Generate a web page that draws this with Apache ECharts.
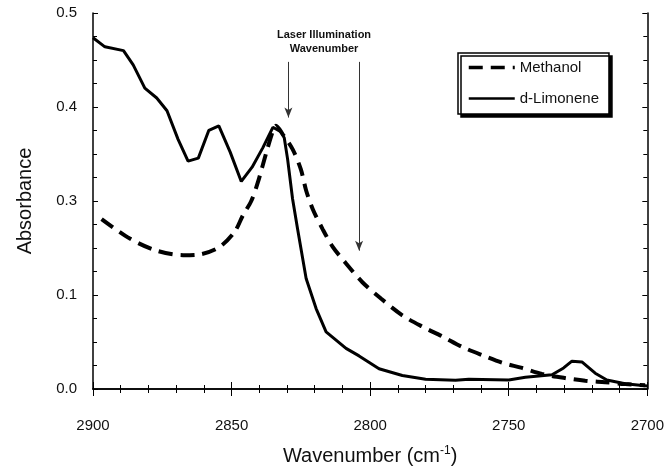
<!DOCTYPE html>
<html>
<head>
  <meta charset="UTF-8">
  <title>Absorbance spectra</title>
  <script src="https://cdn.jsdelivr.net/npm/echarts@6/dist/echarts.min.js"></script>
</head>
<body style="margin:0; background:#fff;">
  <div id="chart" style="width:667px; height:471px;"></div>
  <script>
    // values
    var limoneneWn = [2900, 2895.7, 2889, 2885.5, 2881.3, 2877, 2873.3, 2869.3, 2865.7, 2862, 2858.2, 2854.6,
      2850.5, 2846.5, 2842.6, 2838.7, 2835.1, 2832.1, 2831, 2829.8, 2828, 2826.2, 2823.1, 2819.5, 2815.9,
      2808.7, 2804, 2796.8, 2788.4, 2780, 2769.2, 2764.4, 2750, 2744, 2734.4, 2730.2, 2727.2, 2723.6,
      2718.8, 2714.6, 2708, 2700];
    var limoneneAbs = [0.467, 0.455, 0.450, 0.431, 0.400, 0.387, 0.370, 0.332, 0.303, 0.307, 0.344, 0.350,
      0.315, 0.276, 0.295, 0.321, 0.348, 0.342, 0.334, 0.306, 0.253, 0.213, 0.147, 0.107, 0.076,
      0.054, 0.044, 0.027, 0.018, 0.013, 0.0115, 0.013, 0.012, 0.0155, 0.019, 0.028, 0.037, 0.036,
      0.021, 0.012, 0.007, 0.004];
    var methanolWn = [2896.9, 2886.7, 2877.1, 2867.5, 2861.5, 2854.3, 2848.9, 2845.9, 2842.9, 2840.5, 2837.5,
      2835.1, 2834, 2831.6, 2828, 2825, 2823.1, 2820.7, 2817.2, 2813.5, 2808.7, 2802.8, 2796,
      2788.4, 2781.2, 2774, 2766.8, 2759.6, 2752.4, 2745.2, 2738, 2729.6, 2722.4, 2715.2, 2708, 2700.8];
    var methanolAbs = [0.226, 0.200, 0.184, 0.178, 0.179, 0.189, 0.209, 0.231, 0.250, 0.275, 0.314,
      0.343, 0.350, 0.339, 0.319, 0.292, 0.264, 0.239, 0.213, 0.189, 0.167, 0.142, 0.120,
      0.098, 0.083, 0.070, 0.056, 0.045, 0.035, 0.028, 0.020, 0.0145, 0.011, 0.009, 0.0066, 0.005];

    // the printed y labels skip 0.2
    var yTickLabels = ['0.0', '0.1', '0.3', '0.4', '0.5'];

    // laser illumination arrows
    var arrowWn = [2829.5, 2804];
    var arrowTop = 0.435;
    var arrowTip = [0.361, 0.184];

    function pairs(xs, ys) {
      return xs.map(function (x, i) { return [x, ys[i]]; });
    }

    var font = 'Liberation Sans, Arial, sans-serif';
    var xRange = {min: 2700, max: 2900, interval: 50};
    var yRange = {min: 0, max: 0.5, interval: 0.125};

    var chart = echarts.init(document.getElementById('chart'), null, {renderer: 'canvas'});

    var arrows = arrowWn.map(function (wn, i) {
      return [{coord: [wn, arrowTop], symbol: 'none'}, {coord: [wn, arrowTip[i]], symbol: 'arrow'}];
    });

    var option = {
      animation: false,
      backgroundColor: '#fff',
      textStyle: {fontFamily: font},
      grid: {left: 93, right: 18, top: 13, bottom: 80},
      legend: {
        orient: 'vertical',
        left: 458,
        top: 53,
        padding: [7, 10, 8, 9],
        itemWidth: 46,
        itemHeight: 14,
        itemGap: 16,
        backgroundColor: '#fff',
        borderColor: '#000',
        borderWidth: 1.5,
        borderRadius: 0,
        shadowColor: '#000',
        shadowOffsetX: 3,
        shadowOffsetY: 3,
        shadowBlur: 0,
        itemStyle: {opacity: 0},
        textStyle: {fontSize: 15, color: '#111', fontFamily: font},
        data: [
          {name: 'Methanol', lineStyle: {width: 3.5}},
          {name: 'd-Limonene', lineStyle: {width: 2.5}}
        ]
      },
      graphic: [{
        type: 'text',
        x: 324,
        y: 28,
        style: {
          text: 'Laser Illumination\nWavenumber',
          align: 'center',
          verticalAlign: 'top',
          font: 'bold 11px ' + font,
          lineHeight: 14,
          fill: '#111'
        }
      }],
      xAxis: [{
        type: 'value',
        inverse: true,
        min: xRange.min, max: xRange.max, interval: xRange.interval,
        position: 'bottom',
        name: 'Wavenumber (cm{sup|-1})',
        nameLocation: 'middle',
        nameGap: 56,
        nameTextStyle: {
          fontSize: 20, color: '#111',
          rich: {sup: {fontSize: 12, color: '#111', verticalAlign: 'top', padding: [0, 0, 10, 0]}}
        },
        axisLine: {lineStyle: {color: '#000', width: 1.5}},
        axisTick: {inside: true, length: 7, lineStyle: {color: '#000'}},
        minorTick: {show: true, splitNumber: 5, length: 4, lineStyle: {color: '#000'}},
        axisLabel: {fontSize: 15, color: '#111', margin: 29, formatter: function (v) { return String(v); }},
        splitLine: {show: false}
      }, {
        type: 'value',
        inverse: true,
        min: xRange.min, max: xRange.max, interval: xRange.interval,
        position: 'top',
        axisLine: {lineStyle: {color: '#000', width: 1.5}},
        axisTick: {inside: true, length: 7, lineStyle: {color: '#000'}},
        minorTick: {show: true, splitNumber: 5, length: 4, lineStyle: {color: '#000'}},
        axisLabel: {show: false},
        splitLine: {show: false}
      }],
      yAxis: [{
        type: 'value',
        min: yRange.min, max: yRange.max, interval: yRange.interval,
        position: 'left',
        name: 'Absorbance',
        nameLocation: 'middle',
        nameGap: 58,
        nameTextStyle: {fontSize: 20, color: '#111'},
        axisLine: {show: true, lineStyle: {color: '#000', width: 1.5}},
        axisTick: {show: true, inside: true, length: 5, lineStyle: {color: '#000'}},
        minorTick: {show: true, splitNumber: 4, length: 4, lineStyle: {color: '#000'}},
        axisLabel: {
          fontSize: 15, color: '#111', margin: 16,
          formatter: function (v) { return yTickLabels[Math.round(v / yRange.interval)]; }
        },
        splitLine: {show: false}
      }, {
        type: 'value',
        min: yRange.min, max: yRange.max, interval: yRange.interval,
        position: 'right',
        axisLine: {show: true, lineStyle: {color: '#000', width: 1.5}},
        axisTick: {show: true, inside: true, length: 5, lineStyle: {color: '#000'}},
        minorTick: {show: true, splitNumber: 4, length: 4, lineStyle: {color: '#000'}},
        axisLabel: {show: false},
        splitLine: {show: false}
      }],
      series: [{
        name: 'Methanol',
        type: 'line',
        data: pairs(methanolWn, methanolAbs),
        symbol: 'none',
        smooth: 0.3,
        lineStyle: {color: '#000', width: 4, type: [14, 8]},
        itemStyle: {color: '#000'},
        markLine: {
          silent: true,
          symbolSize: [6, 10],
          label: {show: false},
          lineStyle: {color: '#333', width: 1, type: 'solid'},
          data: arrows
        }
      }, {
        name: 'd-Limonene',
        type: 'line',
        data: pairs(limoneneWn, limoneneAbs),
        symbol: 'none',
        lineStyle: {color: '#000', width: 3, type: 'solid'},
        itemStyle: {color: '#000'}
      }]
    };

    chart.setOption(option);
  </script>
</body>
</html>
